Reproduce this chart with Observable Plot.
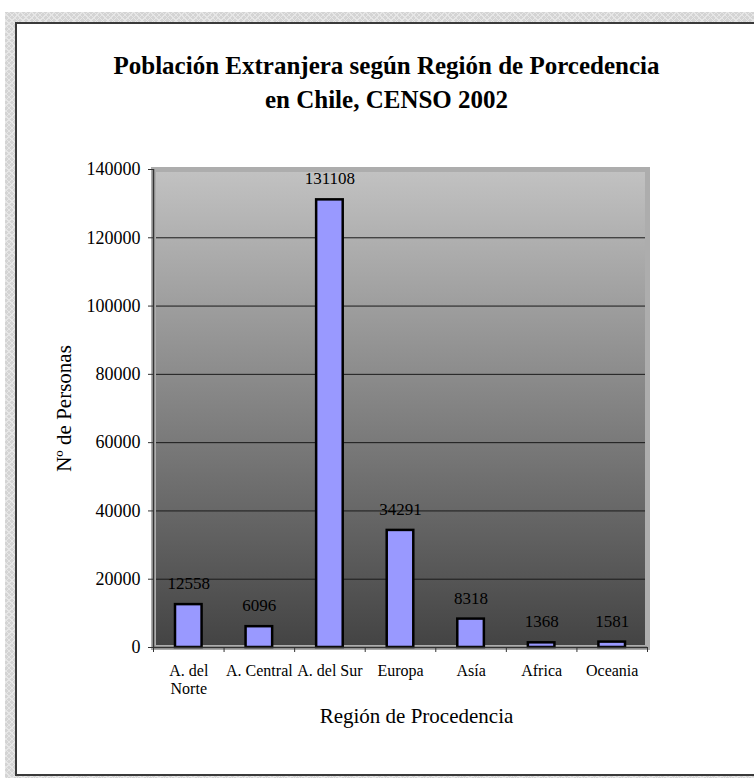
<!DOCTYPE html>
<html><head><meta charset="utf-8">
<script src="https://cdn.jsdelivr.net/npm/d3@7"></script>
<script src="https://cdn.jsdelivr.net/npm/@observablehq/plot@0.6"></script>
<style>
html,body{margin:0;padding:0;background:#fff;}
#wrap{position:relative;width:754px;height:778px;overflow:hidden;}
#hatch{position:absolute;left:5px;top:12px;width:800px;height:800px;background-color:#d4d4d4;
  background-image:repeating-linear-gradient(45deg,#e6e6e6 0 1px,transparent 1px 4px),repeating-linear-gradient(-45deg,#e6e6e6 0 1px,transparent 1px 4px);}
#panel{position:absolute;left:15px;top:22px;width:800px;height:750px;background:#fff;
  border-left:2px solid #3a3a3a;border-top:2px solid #3a3a3a;border-bottom:2px solid #3a3a3a;}
#chart{position:absolute;left:0;top:0;}
</style></head>
<body>
<div id="wrap"><div id="hatch"></div><div id="panel"></div><div id="chart"></div></div>
<script>
const categories = ["A. del\nNorte", "A. Central", "A. del Sur", "Europa", "Asía", "Africa", "Oceania"];
const values = [12558, 6096, 131108, 34291, 8318, 1368, 1581];
const yTicks = [0, 20000, 40000, 60000, 80000, 100000, 120000, 140000];
const titleText = "Población Extranjera según Región de Porcedencia\nen Chile, CENSO 2002";
const yTitle = "Nº de Personas";
const xTitle = "Región de Procedencia";

const data = categories.map((c, i) => ({c, i, v: values[i]}));
const serif = "'Liberation Serif', 'Times New Roman', serif";

const plot = Plot.plot({
  width: 754, height: 778,
  marginLeft: 153, marginRight: 107, marginTop: 169, marginBottom: 131,
  style: {fontFamily: serif, background: "transparent", color: "black"},
  x: {type: "linear", domain: [0, categories.length]},
  y: {domain: [0, 140000]},
  marks: [
    Plot.frame({fill: "url(#bgGrad)"}),
    Plot.ruleY(yTicks.filter(d => d > 0), {stroke: "#1a1a1a", strokeWidth: 1}),
    Plot.frame({stroke: "#adadad", strokeWidth: 5}),
    Plot.rectY(data, {x1: "i", x2: d => d.i + 1, y: "v", insetLeft: 22, insetRight: 22,
      fill: "#9999ff", stroke: "black", strokeWidth: 2.5}),
    Plot.text(data, {x: d => d.i + 0.5, y: "v", text: d => String(d.v), dy: -21, fontSize: 17, fill: "black"}),
    Plot.ruleX([0], {stroke: "#333", strokeWidth: 1.5}),
    Plot.ruleY([0], {stroke: "#333", strokeWidth: 1.5}),
    Plot.axisY({ticks: yTicks, tickSize: 5, tickPadding: 8, fontSize: 18, tickFormat: d3.format("d"), label: null, stroke: "#333"}),
    Plot.axisX({ticks: d3.range(0, categories.length + 1), tickSize: 5, tickFormat: () => "", label: null, stroke: "#333"}),
    Plot.axisX({ticks: categories.map((c, i) => i + 0.5), tickSize: 0, tickPadding: 15, fontSize: 16, lineHeight: 1.15,
      tickFormat: d => categories[Math.floor(d)], label: null}),
    Plot.text([titleText], {frameAnchor: "top", textAnchor: "middle", lineAnchor: "top", dx: -14, dy: -120, fontSize: 25, fontWeight: "bold", lineHeight: 1.36, fill: "black"}),
    Plot.text([yTitle], {frameAnchor: "left", textAnchor: "middle", lineAnchor: "middle", rotate: -90, dx: -89, dy: 0, fontSize: 21, fill: "black"}),
    Plot.text([xTitle], {frameAnchor: "bottom", textAnchor: "middle", lineAnchor: "middle", dx: 16, dy: 69, fontSize: 21, fill: "black"})
  ]
});

const svg = d3.select(plot);
const grad = svg.insert("defs", ":first-child").append("linearGradient")
  .attr("id", "bgGrad").attr("x1", 0).attr("y1", 0).attr("x2", 0).attr("y2", 1);
grad.append("stop").attr("offset", "0%").attr("stop-color", "#c2c2c2");
grad.append("stop").attr("offset", "100%").attr("stop-color", "#434343");

document.getElementById("chart").appendChild(plot);
</script>
</body></html>
